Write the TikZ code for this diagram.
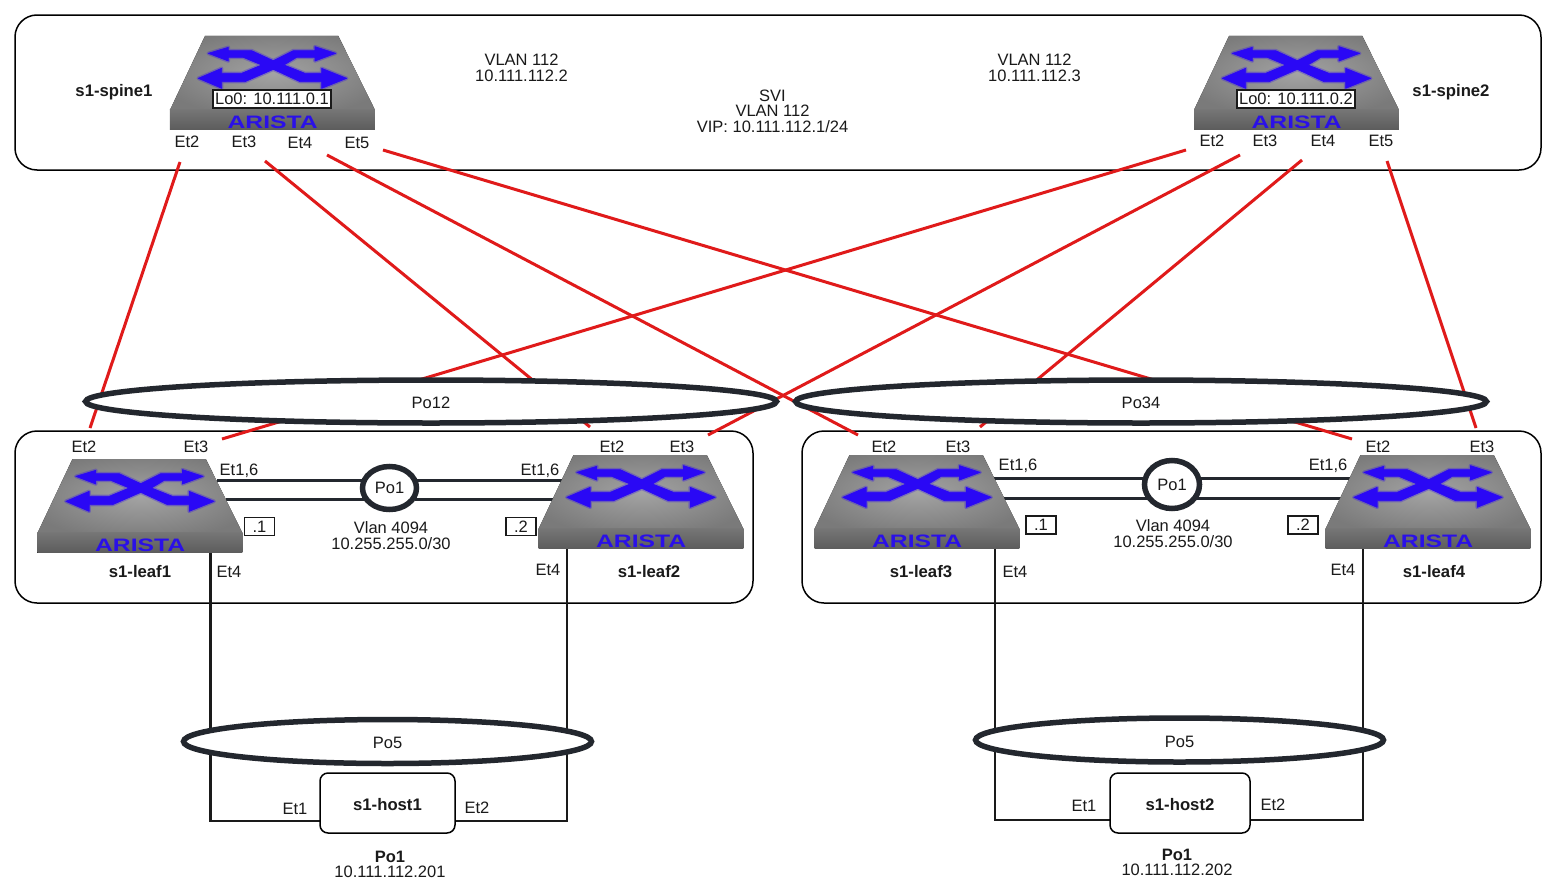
\documentclass[tikz,border=0pt]{standalone}
\usepackage{fontspec}
\setmainfont{Liberation Sans}
\usetikzlibrary{shapes.geometric}
\definecolor{inkc}{HTML}{1A1A1A}
\definecolor{ringc}{HTML}{23272E}
\definecolor{redc}{HTML}{E01A1A}
\definecolor{bluec}{HTML}{2A08F5}
\definecolor{aristac}{HTML}{2A10E8}
\def\swarrows{(235,100)--(295,82)--(295,92)--(365,92)--(430,122)--(490,92)--(555,92)--(555,80)--(617,100)--(555,123)--(555,112)--(500,112)--(462,135)--(525,160)--(575,160)--(575,145)--(650,175)--(575,205)--(575,185)--(510,185)--(430,148)--(345,185)--(275,185)--(275,205)--(205,175)--(275,145)--(275,160)--(335,160)--(395,135)--(340,112)--(295,112)--(295,123)--cycle}
\tikzset{
  x=1pt,y=-1pt,
  txt/.style={inner sep=0pt,text=inkc,align=center,font=\fontsize{16.5}{15.5}\selectfont},
  btxt/.style={txt,font=\fontsize{16.7}{15.5}\selectfont\bfseries},
  group/.style={draw=black,line width=1.5pt,rounded corners=22pt},
  uplink/.style={draw=redc,line width=3pt},
  wire/.style={draw=inkc,line width=2.7pt},
  peer/.style={draw=ringc,line width=3pt},
  lag/.style={ellipse,draw=ringc,fill=white,line width=5.5pt,inner sep=0pt,text=inkc,font=\fontsize{16.5}{16}\selectfont},
  biglag/.style={lag,text height=14.5pt,text depth=0pt},
  host/.style={draw=black,fill=white,line width=1.5pt,rounded corners=8pt,inner sep=0pt,text=inkc,text height=14pt,text depth=0pt,font=\fontsize{16.7}{16}\selectfont\bfseries},
  tag/.style={draw=inkc,fill=white,line width=1.5pt,inner sep=0pt,text=inkc,font=\fontsize{16.5}{16}\selectfont},
  sw/.pic={
    \begin{scope}[shift={(-142.5,-16)},scale=0.3333]
      \begin{scope}
        \clip (225,48)--(625,48)--(735,270)--(120,270)--cycle;
        \fill[inner color=black!36,outer color=black!52] (80,30) rectangle (780,290);
      \end{scope}
      \fill[top color=black!54,bottom color=black!64] (120,270) rectangle (735,330);
      \draw[bluec,opacity=0.3,line width=3.5pt,line join=round] \swarrows;
      \fill[bluec,draw=bluec,line width=0.7pt,line join=round] \swarrows;
      \node[inner sep=0pt,text=aristac,font=\fontsize{18}{18}\selectfont\bfseries] at (428,306) {\scalebox{1.37}[1]{ARISTA}};
    \end{scope}
  }
}
\begin{document}
\begin{tikzpicture}
\useasboundingbox (0,0) rectangle (1555,889);
\fill[white] (0,0) rectangle (1555,889);

% group outlines
\draw[group] (15,15) rectangle (1541,170);
\draw[group] (15,431) rectangle (753,603);
\draw[group] (802,431) rectangle (1541,603);

% connector ends
\coordinate (s1e2) at (180,162); \coordinate (s1e3) at (265,161);
\coordinate (s1e4) at (327,155); \coordinate (s1e5) at (383,150);
\coordinate (s2e2) at (1186,150); \coordinate (s2e3) at (1240,155);
\coordinate (s2e4) at (1302,160); \coordinate (s2e5) at (1387,161);
\coordinate (l1e2) at (90,428); \coordinate (l1e3) at (222,439);
\coordinate (l2e2) at (590,427); \coordinate (l2e3) at (708,435);
\coordinate (l3e2) at (858,435); \coordinate (l3e3) at (980,427);
\coordinate (l4e2) at (1352,439); \coordinate (l4e3) at (1476,428);

% uplinks
\draw[uplink] (s1e2) -- (l1e2);
\draw[uplink] (s1e3) -- (l2e2);
\draw[uplink] (s1e4) -- (l3e2);
\draw[uplink] (s1e5) -- (l4e2);
\draw[uplink] (s2e2) -- (l1e3);
\draw[uplink] (s2e3) -- (l2e3);
\draw[uplink] (s2e4) -- (l3e3);
\draw[uplink] (s2e5) -- (l4e3);

% port channels on uplinks
\node[biglag,minimum width=691pt,minimum height=43pt] (po12) at (431,401.5) {Po12};
\node[biglag,minimum width=691pt,minimum height=43pt] (po34) at (1141,401.5) {Po34};

% host wires
\coordinate (l1e4) at (210.5,550); \coordinate (l2e4) at (567,546);
\coordinate (l3e4) at (995,546); \coordinate (l4e4) at (1363,546);
\coordinate (h1w) at (325,821); \coordinate (h1e) at (450,821);
\coordinate (h2w) at (1115,820); \coordinate (h2e) at (1245,820);
\draw[wire] (l1e4) |- (h1w);
\draw[wire] (l2e4) |- (h1e);
\draw[wire] (l3e4) |- (h2w);
\draw[wire] (l4e4) |- (h2e);
\node[host,minimum width=135pt,minimum height=60pt] (host1) at (387.5,803) {s1-host1};
\node[host,minimum width=140pt,minimum height=60pt] (host2) at (1180,803) {s1-host2};
\node[biglag,minimum width=408pt,minimum height=44pt] (po5a) at (387.5,741.5) {Po5};
\node[biglag,minimum width=408pt,minimum height=44pt] (po5b) at (1179.5,740) {Po5};

% peer links
\coordinate (p1a) at (217,480.5); \coordinate (p1b) at (226,499);
\coordinate (p2a) at (570,480.5); \coordinate (p2b) at (560,499);
\coordinate (p3a) at (990,478); \coordinate (p3b) at (1000,498);
\coordinate (p4a) at (1360,478); \coordinate (p4b) at (1350,498);
\coordinate (m1a) at (365,480.5); \coordinate (m1b) at (365,499);
\coordinate (m1c) at (415,480.5); \coordinate (m1d) at (415,499);
\coordinate (m2a) at (1147,478); \coordinate (m2b) at (1147,498);
\coordinate (m2c) at (1197,478); \coordinate (m2d) at (1197,498);
\draw[peer] (p1a) -- (m1a); \draw[peer] (p1b) -- (m1b);
\draw[peer] (m1c) -- (p2a); \draw[peer] (m1d) -- (p2b);
\draw[peer] (p3a) -- (m2a); \draw[peer] (p3b) -- (m2b);
\draw[peer] (m2c) -- (p4a); \draw[peer] (m2d) -- (p4b);
\node[lag,minimum width=54pt,minimum height=43pt] (mlag1) at (389.5,488) {Po1};
\node[lag,minimum width=55pt,minimum height=48pt] (mlag2) at (1172,484.5) {Po1};

% switches
\pic at (272.5,36) {sw};
\pic at (1296.5,36) {sw};
\pic at (140,459) {sw};
\pic at (641,455) {sw};
\pic at (917,455) {sw};
\pic at (1428,455) {sw};

% loopback tags
\node[tag,minimum width=118pt,minimum height=18pt] (lo1) at (272,99) {Lo0: 10.111.0.1};
\node[tag,minimum width=118pt,minimum height=18pt] (lo2) at (1296,99) {Lo0: 10.111.0.2};

% mlag ip tags
\node[tag,minimum width=30pt,minimum height=18pt] (ip1) at (259.5,526.5) {.1};
\node[tag,minimum width=30pt,minimum height=18pt] (ip2) at (521,526.5) {.2};
\node[tag,minimum width=30pt,minimum height=18pt] (ip3) at (1041,525) {.1};
\node[tag,minimum width=30pt,minimum height=18pt] (ip4) at (1303,525) {.2};

% names
\node[btxt] (n1) at (114,92) {s1-spine1};
\node[btxt] (n2) at (1451,92) {s1-spine2};
\node[btxt] (n3) at (140,572) {s1-leaf1};
\node[btxt] (n4) at (649,572) {s1-leaf2};
\node[btxt] (n5) at (921,572) {s1-leaf3};
\node[btxt] (n6) at (1434,572) {s1-leaf4};

% spine labels
\node[txt] (t1) at (521.5,68) {VLAN 112\\10.111.112.2};
\node[txt] (t2) at (1034.5,68) {VLAN 112\\10.111.112.3};
\node[txt] (t3) at (772.5,111) {SVI\\VLAN 112\\VIP: 10.111.112.1/24};
\node[txt] (a1) at (187,142) {Et2};
\node[txt] (a2) at (244,142) {Et3};
\node[txt] (a3) at (300,143) {Et4};
\node[txt] (a4) at (357,143) {Et5};
\node[txt] (a5) at (1212,141) {Et2};
\node[txt] (a6) at (1265,141) {Et3};
\node[txt] (a7) at (1323,141) {Et4};
\node[txt] (a8) at (1381,141) {Et5};

% leaf labels
\node[txt] (b1) at (84,447) {Et2};
\node[txt] (b2) at (196,447) {Et3};
\node[txt] (b3) at (612,447) {Et2};
\node[txt] (b4) at (682,447) {Et3};
\node[txt] (b5) at (884,447) {Et2};
\node[txt] (b6) at (958,447) {Et3};
\node[txt] (b7) at (1378,447) {Et2};
\node[txt] (b8) at (1482,447) {Et3};
\node[txt] (c1) at (239,471) {Et1,6};
\node[txt] (c2) at (540,471) {Et1,6};
\node[txt] (c3) at (1018,466) {Et1,6};
\node[txt] (c4) at (1328,466) {Et1,6};
\node[txt] (d1) at (229,572) {Et4};
\node[txt] (d2) at (548,570) {Et4};
\node[txt] (d3) at (1015,572) {Et4};
\node[txt] (d4) at (1343,570) {Et4};
\node[txt] (v1) at (391,535.5) {Vlan 4094\\10.255.255.0/30};
\node[txt] (v2) at (1173,533.5) {Vlan 4094\\10.255.255.0/30};

% host labels
\node[txt] (e1) at (295,809) {Et1};
\node[txt] (e2) at (477,808) {Et2};
\node[txt] (e3) at (1084,806) {Et1};
\node[txt] (e4) at (1273,805) {Et2};
\node[txt] (f1) at (390,864.5) {\textbf{Po1}\\10.111.112.201};
\node[txt] (f2) at (1177,862.5) {\textbf{Po1}\\10.111.112.202};
\end{tikzpicture}
\end{document}
